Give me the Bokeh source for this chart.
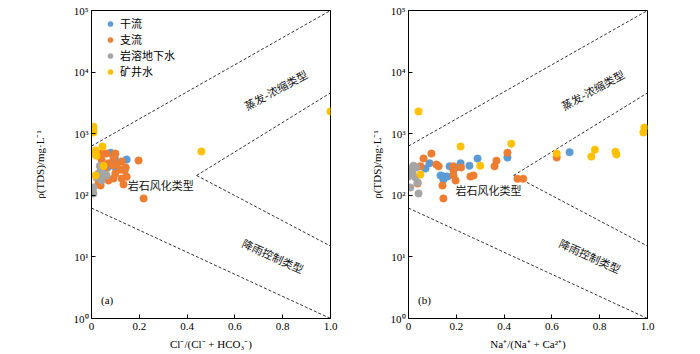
from bokeh.plotting import figure
from bokeh.layouts import row
from bokeh.models import Range1d, FixedTicker, CustomJSTickFormatter
from bokeh.core.properties import value
from bokeh.embed import file_html
from bokeh.resources import INLINE

# ---------------- data ----------------
series_names = ["干流", "支流", "岩溶地下水", "矿井水"]
series_colors = ["#5B9BD5", "#ED7D31", "#A5A5A5", "#FFC000"]

# panel (a): Cl-/(Cl- + HCO3-) vs TDS
blue_a_x = [0.08, 0.097, 0.147, 0.10, 0.084, 0.067, 0.10]
blue_a_y = [490, 410, 380, 355, 330, 283, 283]
orange_a_x = [0.042, 0.063, 0.10, 0.042, 0.092, 0.071, 0.126, 0.105, 0.197, 0.143, 0.122,
              0.055, 0.10, 0.139, 0.05, 0.071, 0.092, 0.126, 0.038, 0.134, 0.218, 0.029,
              0.147, 0.088]
orange_a_y = [475, 475, 475, 380, 410, 330, 355, 316, 367, 283, 262,
              253, 225, 253, 195, 174, 187, 187, 144, 150, 89, 155,
              200, 305]
gray_a_x = [0.038, 0.05, 0.021, 0.042, 0.008, 0.008, 0.063, 0.029, 0.035]
gray_a_y = [253, 225, 195, 174, 134, 107, 210, 225, 300]
yellow_a_x = [0.008, 0.008, 0.008, 0.046, 0.017, 0.008, 0.021, 0.05, 0.017, 0.46, 1.0]
yellow_a_y = [1300, 1150, 1050, 620, 535, 470, 440, 300, 210, 515, 2300]

# panel (b): Na+/(Na+ + Ca2+) vs TDS
blue_b_x = [0.088, 0.071, 0.134, 0.146, 0.163, 0.146, 0.172, 0.197, 0.218, 0.255, 0.289, 0.414, 0.674]
blue_b_y = [330, 272, 210, 202, 202, 181, 295, 283, 330, 302, 395, 410, 500]
orange_b_x = [0.063, 0.096, 0.05, 0.117, 0.126, 0.038, 0.142, 0.146, 0.188, 0.188, 0.197,
              0.259, 0.272, 0.188, 0.36, 0.368, 0.414, 0.456, 0.48, 0.62, 0.22]
orange_b_y = [395, 475, 295, 316, 295, 155, 144, 89, 253, 210, 174,
              202, 210, 295, 295, 365, 490, 185, 185, 410, 283]
gray_b_x = [0.021, 0.008, 0.033, 0.017, 0.0, 0.029, 0.008, 0.042, 0.038]
gray_b_y = [302, 272, 283, 225, 202, 195, 134, 107, 161]
yellow_b_x = [0.05, 0.218, 0.30, 0.042, 0.43, 0.62, 0.78, 0.765, 0.866, 0.87, 0.987, 0.983]
yellow_b_y = [217, 620, 302, 2300, 690, 475, 550, 425, 510, 460, 1260, 1050]

# Gibbs boundary lines (x pairs, TDS pairs)
upper_x, upper_y = [0.0, 1.0], [630, 100000]
evap_x, evap_y = [0.44, 1.0], [210, 4600]
rainr_x, rainr_y = [0.44, 1.0], [210, 15]
rainl_x, rainl_y = [0.0, 1.0], [62, 1]

x_ticks = [0, 0.2, 0.4, 0.6, 0.8, 1.0]
y_ticks = [1, 10, 100, 1000, 10000, 100000]

SERIF = "Liberation Serif"
CJK = "Noto Sans CJK SC"


def make_panel(xs, ys, xlabel, tag, left_border, right_border, ylabel_standoff,
               legend, rock_pos):
    p = figure(width=350, height=354, y_axis_type="log",
               x_range=Range1d(0, 1), y_range=Range1d(1, 100000),
               output_backend="svg", toolbar_location=None,
               min_border_left=left_border, min_border_right=right_border,
               min_border_top=10, min_border_bottom=36)
    p.background_fill_color = "white"
    p.border_fill_color = "white"
    p.outline_line_color = "black"
    p.outline_line_width = 1
    p.grid.visible = False

    for ax in (p.xaxis[0], p.yaxis[0]):
        ax.axis_line_color = "black"
        ax.major_tick_line_color = "black"
        ax.major_tick_in = 4
        ax.major_tick_out = 0
        ax.minor_tick_in = 0
        ax.minor_tick_out = 0
        ax.major_label_text_font = SERIF
        ax.major_label_text_font_size = "11px"
        ax.major_label_text_color = "black"
        ax.axis_label_text_font = SERIF
        ax.axis_label_text_font_size = "11px"
        ax.axis_label_text_font_style = "normal"
        ax.axis_label_text_color = "black"

    p.xaxis.ticker = FixedTicker(ticks=x_ticks)
    p.xaxis.formatter = CustomJSTickFormatter(
        code="return tick < 0.01 ? '0' : tick.toFixed(1);")
    p.xaxis.major_label_standoff = 4
    p.xaxis.axis_label = xlabel
    p.xaxis.axis_label_standoff = 5

    p.yaxis.ticker = FixedTicker(ticks=y_ticks)
    p.yaxis.formatter = CustomJSTickFormatter(
        code="const e = Math.round(Math.log10(tick)); const s = '⁰¹²³⁴⁵⁶⁷⁸⁹'; return '10' + s[e];")
    p.yaxis.major_label_standoff = 3
    p.yaxis.axis_label = "ρ(TDS)/mg·L⁻¹"
    p.yaxis.axis_label_standoff = ylabel_standoff

    for lx, ly in ((upper_x, upper_y), (evap_x, evap_y), (rainr_x, rainr_y), (rainl_x, rainl_y)):
        p.line(lx, ly, line_color="#333333", line_width=1, line_dash="3 2")

    for (sx, sy), name, col in zip(zip(xs, ys), series_names, series_colors):
        kw = dict(legend_label=name) if legend else {}
        p.scatter(sx, sy, size=7.5, fill_color=col, line_color=col, line_width=0.5, **kw)

    # region labels
    txt = dict(text_font=value(CJK), text_font_size="11px", text_color="#111111",
               text_align="center", text_baseline="middle")
    p.text(x=[0.77], y=[5200], text=["蒸发-浓缩类型"], angle=0.50, **txt)
    p.text(x=[rock_pos[0]], y=[rock_pos[1]], text=["岩石风化类型"], **txt)
    p.text(x=[0.76], y=[10.5], text=["降雨控制类型"], angle=-0.43, **txt)
    p.text(x=[0.04], y=[2.0], text=[tag],
           text_font=value(SERIF), text_font_size="11px", text_color="black",
           text_align="left", text_baseline="middle")

    if legend:
        lg = p.legend[0]
        lg.location = (12, 239)
        lg.margin = 0
        lg.padding = 0
        lg.spacing = 0
        lg.glyph_width = 14
        lg.glyph_height = 13
        lg.label_height = 13
        lg.label_standoff = 3
        lg.label_text_font = CJK
        lg.label_text_font_size = "11px"
        lg.label_text_color = "black"
        lg.border_line_color = None
        lg.background_fill_alpha = 0
    return p


p1 = make_panel([blue_a_x, orange_a_x, gray_a_x, yellow_a_x],
                [blue_a_y, orange_a_y, gray_a_y, yellow_a_y],
                "Cl⁻/(Cl⁻ + HCO₃⁻)", "(a)", 91, 20, 25, True, (0.29, 145))
p2 = make_panel([blue_b_x, orange_b_x, gray_b_x, yellow_b_x],
                [blue_b_y, orange_b_y, gray_b_y, yellow_b_y],
                "Na⁺/(Na⁺ + Ca²⁺)", "(b)", 58, 53, 5, False, (0.335, 122))

layout = row(p1, p2)
open("out.html", "w").write(file_html(layout, INLINE))
